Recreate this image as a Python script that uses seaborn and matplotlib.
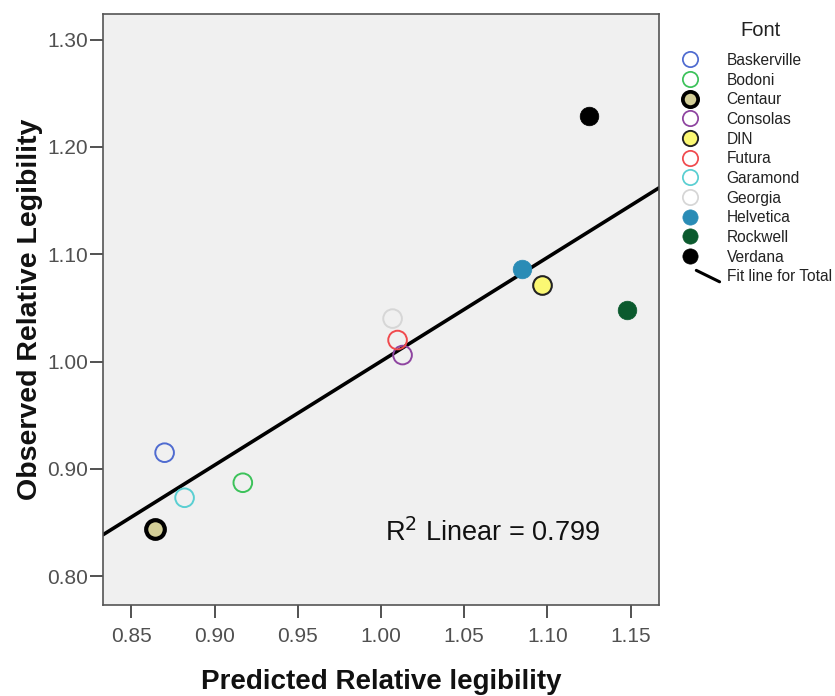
import matplotlib
matplotlib.use("Agg")
import matplotlib.pyplot as plt
from matplotlib.lines import Line2D
from matplotlib.legend_handler import HandlerBase
import seaborn as sns
import pandas as pd

fonts = ["Baskerville", "Bodoni", "Centaur", "Consolas", "DIN", "Futura",
         "Garamond", "Georgia", "Helvetica", "Rockwell", "Verdana"]
predicted = [0.870, 0.917, 0.864, 1.013, 1.097, 1.010, 0.882, 1.007, 1.085, 1.148, 1.125]
observed = [0.915, 0.887, 0.844, 1.006, 1.071, 1.020, 0.873, 1.040, 1.086, 1.048, 1.229]
colors = ["#4F6BD0", "#3CC25A", "#D3CE97", "#8E44A0", "#FBF873", "#F04A4E",
          "#5ACFD2", "#D6D6D6", "#2A8CB6", "#0B5A2E", "#000000"]
styles = ["open", "open", "filled_edge2", "open", "filled_edge", "open",
          "open", "open", "filled", "filled", "filled"]
x_ticks = [0.85, 0.90, 0.95, 1.00, 1.05, 1.10, 1.15]
y_ticks = [0.80, 0.90, 1.00, 1.10, 1.20, 1.30]

df = pd.DataFrame({"Font": fonts, "Predicted": predicted, "Observed": observed})

sns.set_theme(style="white")
plt.rcParams["font.family"] = ["Liberation Sans", "DejaVu Sans"]

fig = plt.figure(figsize=(8.35, 6.96), dpi=100)
ax = fig.add_axes([0.1234, 0.1307, 0.6656, 0.8493])
ax.set_facecolor("#F0F0F0")
ax.set_xlim(0.833, 1.167)
ax.set_ylim(0.773, 1.324)

handles = []
for i, row in df.iterrows():
    c = colors[i]
    st = styles[i]
    if st == "open":
        fc, ec, lw = "none", c, 1.4
    elif st == "filled_edge":
        fc, ec, lw = c, "#222222", 1.5
    elif st == "filled_edge2":
        fc, ec, lw = c, "#000000", 3.0
    else:
        fc, ec, lw = c, c, 0.5
    sns.scatterplot(x=[row["Predicted"]], y=[row["Observed"]], ax=ax, s=180,
                    facecolors=fc, edgecolors=ec, linewidths=lw, zorder=3, legend=False)
    handles.append(Line2D([], [], linestyle="none", marker="o", markersize=11,
                          markerfacecolor=fc, markeredgecolor=ec,
                          markeredgewidth=lw * 0.9, label=row["Font"]))

sns.regplot(data=df, x="Predicted", y="Observed", ax=ax, scatter=False, ci=None,
            truncate=False, line_kws=dict(color="black", lw=2.6, zorder=2))


class DiagHandler(HandlerBase):
    def create_artists(self, legend, orig_handle, xdescent, ydescent, width, height, fontsize, trans):
        l = Line2D([xdescent + width * 0.68, xdescent + width * 1.36],
                   [ydescent + height * 1.0, ydescent - height * 0.05],
                   color="black", lw=2.2, transform=trans)
        return [l]


fit_handle = Line2D([], [], color="black", label="Fit line for Total")
handles.append(fit_handle)

leg = fig.legend(handles=handles, loc="upper left", bbox_to_anchor=(0.793, 0.9396),
                 frameon=False, fontsize=11.2,
                 handlelength=2.2, handletextpad=1.25, labelspacing=0.3, borderpad=0.2,
                 handler_map={fit_handle: DiagHandler()})
for t in leg.get_texts():
    t.set_color("#222222")
fig.text(761 / 835, 1 - 30 / 696, "Font", fontsize=14.5, color="#222222",
         ha="center", va="center")

ax.set_xticks(x_ticks)
ax.set_xticklabels([f"{v:.2f}" for v in x_ticks])
ax.set_yticks(y_ticks)
ax.set_yticklabels([f"{v:.2f}" for v in y_ticks])
ax.tick_params(axis="both", direction="out", length=9.5, width=1.2, color="#333333",
               labelsize=15, labelcolor="#505050", bottom=True, left=True)
ax.tick_params(axis="x", pad=6)
ax.tick_params(axis="y", pad=1)
for sp in ax.spines.values():
    sp.set_color("#555555")
    sp.set_linewidth(1.2)

ax.set_xlabel("Predicted Relative legibility", fontsize=20, fontweight="bold",
              color="#111111", labelpad=17)
ax.set_ylabel("Observed Relative Legibility", fontsize=20.5, fontweight="bold",
              color="#111111", labelpad=3)

ax.text(0.507, 0.122, "R$^2$ Linear = 0.799", transform=ax.transAxes, fontsize=19.5,
        color="#111111", ha="left", va="center")

fig.savefig("out.png", dpi=100)
